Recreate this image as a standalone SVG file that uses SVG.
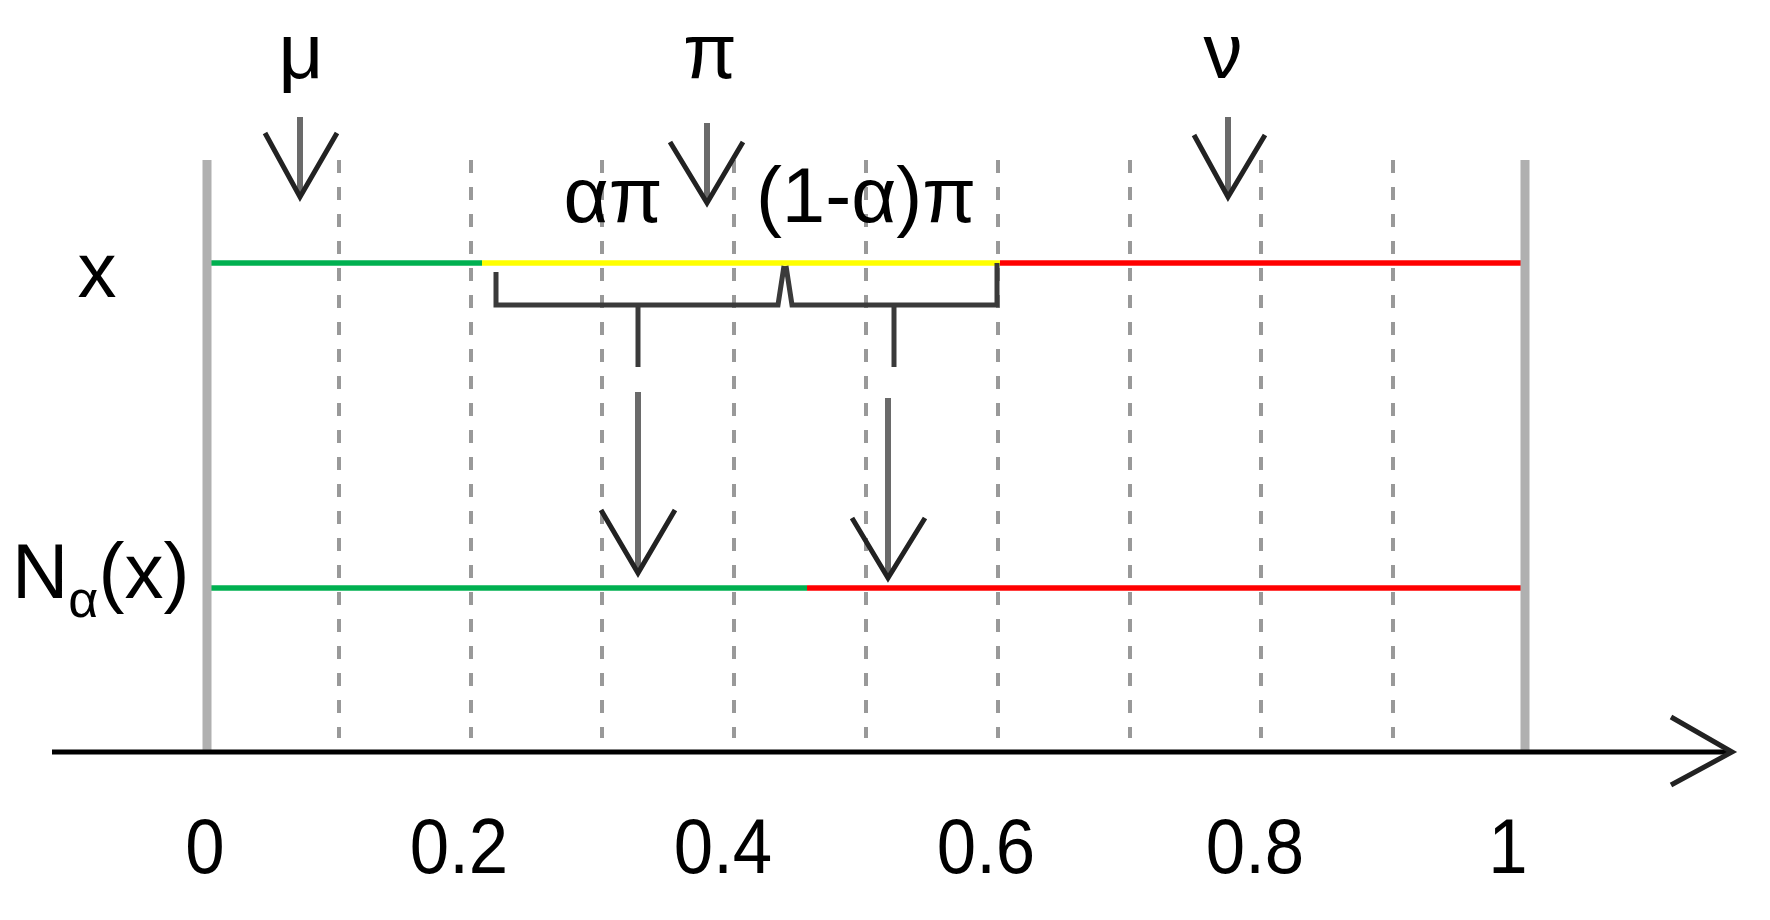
<svg xmlns="http://www.w3.org/2000/svg" width="1770" height="920" viewBox="0 0 1770 920">
<style>
.t{font-family:"Liberation Sans",Arial,sans-serif;font-size:78px;fill:#000;text-anchor:middle}
.num{font-size:77px}
.grid{stroke:#999;stroke-width:4;stroke-dasharray:13 14;fill:none}
.bar{stroke:#b0b0b0;stroke-width:9;fill:none}
.seg{stroke-width:5.5;fill:none}
.br{stroke:#3a3a3a;stroke-width:5;fill:none}
.shaft{stroke:#6a6a6a;stroke-width:6;fill:none}
.head{stroke:#222;stroke-width:5;fill:none;stroke-linejoin:miter}
</style>
<rect width="1770" height="920" fill="#fff"/>
<g id="grid">
<line class="grid" x1="339" y1="160" x2="339" y2="738"/>
<line class="grid" x1="471" y1="160" x2="471" y2="738"/>
<line class="grid" x1="602" y1="160" x2="602" y2="738"/>
<line class="grid" x1="734" y1="160" x2="734" y2="738"/>
<line class="grid" x1="866" y1="160" x2="866" y2="738"/>
<line class="grid" x1="998" y1="160" x2="998" y2="738"/>
<line class="grid" x1="1130" y1="160" x2="1130" y2="738"/>
<line class="grid" x1="1261" y1="160" x2="1261" y2="738"/>
<line class="grid" x1="1393" y1="160" x2="1393" y2="738"/>
</g>
<g id="x-line">
<line class="seg" stroke="#00b050" x1="207" y1="263" x2="482" y2="263"/>
<line class="seg" stroke="#ffff00" x1="482" y1="263" x2="1000" y2="263"/>
<line class="seg" stroke="#ff0000" x1="1000" y1="263" x2="1525" y2="263"/>
</g>
<g id="n-line">
<line class="seg" stroke="#00b050" x1="207" y1="588" x2="807" y2="588"/>
<line class="seg" stroke="#ff0000" x1="807" y1="588" x2="1525" y2="588"/>
</g>
<g id="bars">
<line class="bar" x1="207" y1="160" x2="207" y2="752"/>
<line class="bar" x1="1525" y1="160" x2="1525" y2="752"/>
</g>
<g id="connectors">
<path class="br" d="M496,272 L496,305 L778,305 L784,266"/>
<path class="br" d="M786,266 L792,305 L997,305 L997,263"/>
<line class="br" stroke-width="8" x1="638" y1="305" x2="638" y2="367"/>
<line class="br" stroke-width="8" x1="894" y1="305" x2="894" y2="367"/>
<line class="shaft" stroke-width="8" x1="638" y1="392" x2="638" y2="570"/>
<polyline class="head" points="601,510 638,573 675,510"/>
<line class="shaft" stroke-width="8" x1="888" y1="398" x2="888" y2="575"/>
<polyline class="head" points="852,518 888,578 925,518"/>
<line class="shaft" x1="300" y1="117" x2="300" y2="195"/>
<polyline class="head" points="265,133 300,197 337,133"/>
<line class="shaft" x1="707" y1="123" x2="707" y2="200"/>
<polyline class="head" points="670,142 707,203 743,142"/>
<line class="shaft" stroke="#111" x1="1228" y1="117" x2="1228" y2="195"/>
<polyline class="head" points="1194,135 1228,197 1265,135"/>
</g>
<g id="axis">
<line stroke="#000" stroke-width="5" x1="52" y1="752" x2="1730" y2="752"/>
<polyline class="head" points="1671,717 1732,752 1671,785"/>
</g>
<g id="labels">
<text class="t" x="301" y="78">μ</text>
<text class="t" x="710" y="78">π</text>
<text class="t" x="1223" y="78">ν</text>
<text class="t" x="613" y="222">απ</text>
<text class="t" x="866" y="222">(1-α)π</text>
<text class="t" x="97" y="297">x</text>
<text class="t" x="12" y="598" style="text-anchor:start">N<tspan font-size="52" dy="19">α</tspan><tspan dy="-19">(x)</tspan></text>
</g>
<g id="ticks">
<text class="t num" transform="translate(205,873) scale(0.92,1)">0</text>
<text class="t num" transform="translate(459,873) scale(0.92,1)">0.2</text>
<text class="t num" transform="translate(723,873) scale(0.92,1)">0.4</text>
<text class="t num" transform="translate(986,873) scale(0.92,1)">0.6</text>
<text class="t num" transform="translate(1255,873) scale(0.92,1)">0.8</text>
<text class="t num" transform="translate(1508,873) scale(0.92,1)">1</text>
</g>
</svg>
